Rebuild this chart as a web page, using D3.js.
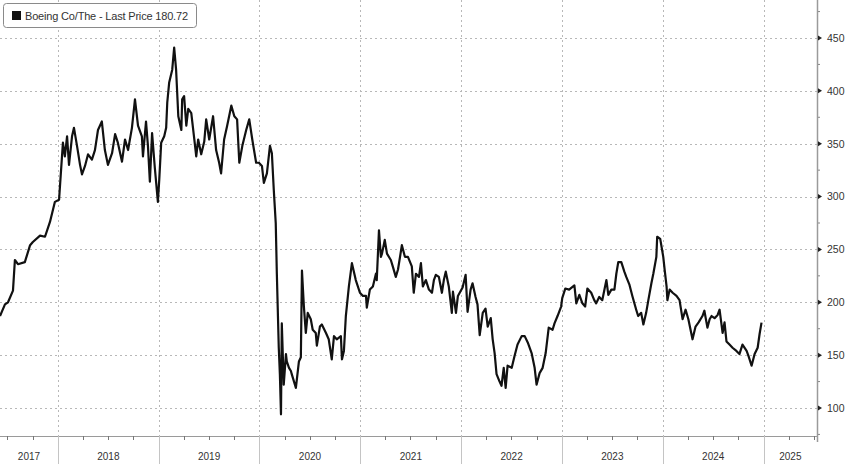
<!DOCTYPE html>
<html><head><meta charset="utf-8">
<script src="https://cdn.jsdelivr.net/npm/d3@7"></script>
<style>body{margin:0;background:#fff}svg{display:block}</style>
</head><body><svg id="c" width="848" height="464"></svg>
<script>
const dates = ["2017-06-05","2017-06-23","2017-07-04","2017-07-22","2017-07-29","2017-08-09","2017-09-03","2017-09-22","2017-10-02","2017-10-28","2017-11-15","2017-12-03","2017-12-21",
"2018-01-05","2018-01-19","2018-01-26","2018-02-03","2018-02-10","2018-02-21","2018-02-28","2018-03-11","2018-03-22","2018-03-29","2018-04-09","2018-04-20","2018-05-04","2018-05-15","2018-05-26","2018-06-09","2018-06-20","2018-07-01","2018-07-16","2018-07-27","2018-08-06","2018-08-21","2018-09-01","2018-09-12","2018-09-26","2018-10-07","2018-10-18","2018-11-01","2018-11-05","2018-11-16","2018-11-23","2018-11-30","2018-12-08","2018-12-18","2018-12-29",
"2019-01-03","2019-01-10","2019-01-21","2019-01-28","2019-02-01","2019-02-08","2019-02-19","2019-02-26","2019-03-05","2019-03-13","2019-03-24","2019-03-27","2019-04-03","2019-04-11","2019-04-18","2019-04-29","2019-05-10","2019-05-17","2019-05-24","2019-06-04","2019-06-15","2019-06-22","2019-07-03","2019-07-17","2019-07-28","2019-08-08","2019-08-15","2019-08-26","2019-09-06","2019-09-21","2019-10-02","2019-10-12","2019-10-20","2019-10-31","2019-11-14","2019-11-25","2019-12-06","2019-12-20","2019-12-30",
"2020-01-10","2020-01-17","2020-01-28","2020-02-08","2020-02-15","2020-02-22","2020-02-29","2020-03-04","2020-03-11","2020-03-15","2020-03-19","2020-03-22","2020-03-29","2020-04-06","2020-04-09","2020-04-17","2020-04-24","2020-04-27","2020-05-12","2020-05-23","2020-05-30","2020-06-03","2020-06-10","2020-06-17","2020-06-24","2020-07-05","2020-07-12","2020-07-23","2020-07-27","2020-08-07","2020-08-14","2020-08-29","2020-09-08","2020-09-19","2020-09-27","2020-10-07","2020-10-22","2020-10-26","2020-11-02","2020-11-09","2020-11-20","2020-12-01","2020-12-15","2020-12-30",
"2021-01-10","2021-01-21","2021-01-24","2021-02-04","2021-02-15","2021-02-26","2021-03-01","2021-03-09","2021-03-16","2021-03-20","2021-03-30","2021-04-07","2021-04-21","2021-04-28","2021-05-09","2021-05-17","2021-05-31","2021-06-11","2021-06-22","2021-07-06","2021-07-13","2021-07-21","2021-08-01","2021-08-08","2021-08-15","2021-08-26","2021-09-06","2021-09-17","2021-09-24","2021-10-01","2021-10-12","2021-10-23","2021-10-30","2021-11-06","2021-11-17","2021-11-28","2021-12-02","2021-12-13","2021-12-20",
"2022-01-06","2022-01-17","2022-01-24","2022-02-04","2022-02-11","2022-02-22","2022-03-01","2022-03-09","2022-03-20","2022-03-30","2022-04-07","2022-04-18","2022-04-25","2022-05-02","2022-05-09","2022-05-20","2022-05-27","2022-06-04","2022-06-11","2022-06-18","2022-07-03","2022-07-13","2022-07-24","2022-08-08","2022-08-19","2022-08-30","2022-09-13","2022-09-24","2022-10-01","2022-10-12","2022-10-23","2022-11-03","2022-11-14","2022-11-28","2022-12-05","2022-12-16","2022-12-29",
"2023-01-02","2023-01-13","2023-01-27","2023-02-15","2023-02-22","2023-03-05","2023-03-16","2023-03-26","2023-04-03","2023-04-17","2023-04-28","2023-05-05","2023-05-16","2023-05-27","2023-06-11","2023-06-18","2023-06-29","2023-07-10","2023-07-17","2023-07-24","2023-08-04","2023-08-15","2023-08-22","2023-09-02","2023-09-13","2023-09-27","2023-10-04","2023-10-15","2023-10-23","2023-11-02","2023-11-10","2023-11-21","2023-11-28","2023-12-09","2023-12-12","2023-12-23",
"2024-01-03","2024-01-08","2024-01-15","2024-01-18","2024-01-26","2024-02-06","2024-02-20","2024-03-02","2024-03-13","2024-03-24","2024-04-03","2024-04-18","2024-04-29","2024-05-10","2024-05-24","2024-05-31","2024-06-11","2024-06-19","2024-06-26","2024-07-07","2024-07-18","2024-07-25","2024-08-05","2024-08-12","2024-08-19","2024-08-30","2024-09-10","2024-09-24","2024-10-05","2024-10-16","2024-10-31","2024-11-07","2024-11-18","2024-11-29","2024-12-10","2024-12-17","2024-12-24"];

const prices = [187,198,200,211,240,236,238,254,257,263,262,276,295,
297,351,338,357,330,357,365,348,330,321,329,340,335,344,363,371,344,330,341,359,351,333,354,344,365,392,367,357,338,371,348,314,360,327,295,
316,351,357,365,389,408,420,441,420,376,363,392,395,367,383,379,354,338,354,340,352,373,354,376,344,332,322,354,367,386,376,373,332,348,363,373,354,332,332,
329,313,322,348,341,306,275,227,157,132,94,180,122,151,144,138,135,132,119,144,148,230,196,171,190,184,174,171,159,177,179,171,165,146,168,165,168,146,154,187,215,237,221,209,
206,206,195,212,215,227,221,268,243,246,259,246,240,234,224,231,254,243,243,234,209,227,224,237,215,221,212,209,221,226,224,209,221,229,215,190,210,190,206,
214,226,191,212,218,205,198,169,190,194,177,185,165,152,132,125,121,138,119,140,138,149,160,168,168,162,152,138,122,133,138,152,176,174,180,187,196,
204,213,212,216,199,207,199,196,213,209,202,199,205,202,221,207,212,212,227,238,238,229,224,217,206,193,187,190,179,190,202,218,227,243,262,260,
243,231,215,202,212,209,206,202,184,193,184,165,177,181,187,192,176,184,187,185,188,193,171,181,163,160,157,154,151,160,154,149,140,151,157,170,180.72];

const yTicks = [100,150,200,250,300,350,400,450];
const yMinorTicks = [75,125,175,225,275,325,375,425,475];
const yearLabels = ["2017","2018","2019","2020","2021","2022","2023","2024","2025"];
const legendLabel = "Boeing Co/The - Last Price 180.72";

const parse = d3.timeParse("%Y-%m-%d");
const data = dates.map((d,i)=>({date:parse(d), value:prices[i]}));

const svg = d3.select("#c");
const plotRight = 817, plotBottom = 436, H = 464;
const NARROW = "'Liberation Sans Narrow','Arial Narrow','Liberation Sans',Arial,sans-serif";
const REG = "'Liberation Sans',Arial,sans-serif";

const x = d3.scaleTime().domain([parse("2017-06-05"), parse("2025-07-13")]).range([0, plotRight]);
const y = d3.scaleLinear().domain([100,450]).range([408,38]);

svg.append("rect").attr("width",848).attr("height",464).attr("fill","#fff");

// horizontal grid
svg.append("g").selectAll("line").data(yTicks).join("line")
  .attr("x1",0).attr("x2",plotRight)
  .attr("y1",d=>Math.round(y(d))+0.5).attr("y2",d=>Math.round(y(d))+0.5)
  .attr("stroke","#b8b8b8").attr("stroke-width",1).attr("stroke-dasharray","2,3");

// vertical grid at year boundaries
const yearStarts = d3.timeYear.range(x.domain()[0], x.domain()[1]).filter(d=>x(d)>0);
svg.append("g").selectAll("line").data(yearStarts).join("line")
  .attr("x1",d=>Math.round(x(d))+0.5).attr("x2",d=>Math.round(x(d))+0.5)
  .attr("y1",0).attr("y2",plotBottom)
  .attr("stroke","#b8b8b8").attr("stroke-width",1).attr("stroke-dasharray","2,3");

// line
svg.append("path").datum(data)
  .attr("d", d3.line().x(d=>x(d.date)).y(d=>y(d.value)))
  .attr("fill","none").attr("stroke","#111").attr("stroke-width",2.2).attr("stroke-linejoin","round");

// bottom axis
svg.append("line").attr("x1",0).attr("x2",plotRight).attr("y1",plotBottom+0.5).attr("y2",plotBottom+0.5)
  .attr("stroke","#9a9a9a").attr("stroke-width",1.2);
const quarters = d3.timeMonth.every(3).range(x.domain()[0], x.domain()[1]);
svg.append("g").selectAll("line").data(quarters).join("line")
  .attr("x1",d=>Math.round(x(d))+0.5).attr("x2",d=>Math.round(x(d))+0.5)
  .attr("y1",plotBottom).attr("y2",plotBottom+4)
  .attr("stroke","#777").attr("stroke-width",1);
svg.append("g").selectAll("line").data(yearStarts).join("line")
  .attr("x1",d=>Math.round(x(d))+0.5).attr("x2",d=>Math.round(x(d))+0.5)
  .attr("y1",plotBottom).attr("y2",H)
  .attr("stroke","#c4c4c4").attr("stroke-width",1);

// year labels centered in visible segment
const bounds = [0, ...yearStarts.map(d=>x(d)), plotRight];
svg.append("g").selectAll("text").data(yearLabels).join("text")
  .attr("x",(d,i)=>(bounds[i]+bounds[i+1])/2)
  .attr("y",460)
  .attr("text-anchor","middle")
  .attr("font-family",NARROW).attr("font-size",10).attr("fill","#333")
  .text(d=>d);

// right axis
const yAxis = d3.axisRight(y).tickValues(yTicks).tickSize(0).tickPadding(10);
const ga = svg.append("g").attr("transform",`translate(${plotRight},0)`).call(yAxis);
ga.select(".domain").remove();
ga.selectAll("text").attr("font-family",NARROW).attr("font-size",10.5).attr("fill","#333");
svg.append("line").attr("x1",plotRight+0.5).attr("x2",plotRight+0.5).attr("y1",0).attr("y2",plotBottom+6)
  .attr("stroke","#9a9a9a").attr("stroke-width",1.5);
svg.append("g").selectAll("path").data(yTicks).join("path")
  .attr("d",d=>{const yy=y(d);return `M${plotRight+1},${yy-2.5}L${plotRight+5},${yy}L${plotRight+1},${yy+2.5}Z`;})
  .attr("fill","#222");
svg.append("g").selectAll("line").data(yMinorTicks.filter(d=>y(d)>0 && y(d)<plotBottom)).join("line")
  .attr("x1",plotRight+1).attr("x2",plotRight+3)
  .attr("y1",d=>y(d)).attr("y2",d=>y(d))
  .attr("stroke","#888").attr("stroke-width",1);

// legend
const lg = svg.append("g");
lg.append("rect").attr("x",3.5).attr("y",3.5).attr("width",193).attr("height",24).attr("rx",3)
  .attr("fill","#fff").attr("stroke","#8a8a8a").attr("stroke-width",1);
lg.append("rect").attr("x",12).attr("y",11).attr("width",9).attr("height",9).attr("fill","#111");
lg.append("text").attr("x",25).attr("y",19.5)
  .attr("font-family",NARROW).attr("font-size",11).attr("fill","#333")
  .attr("textLength",163).attr("lengthAdjust","spacing")
  .text(legendLabel);
</script></body></html>
